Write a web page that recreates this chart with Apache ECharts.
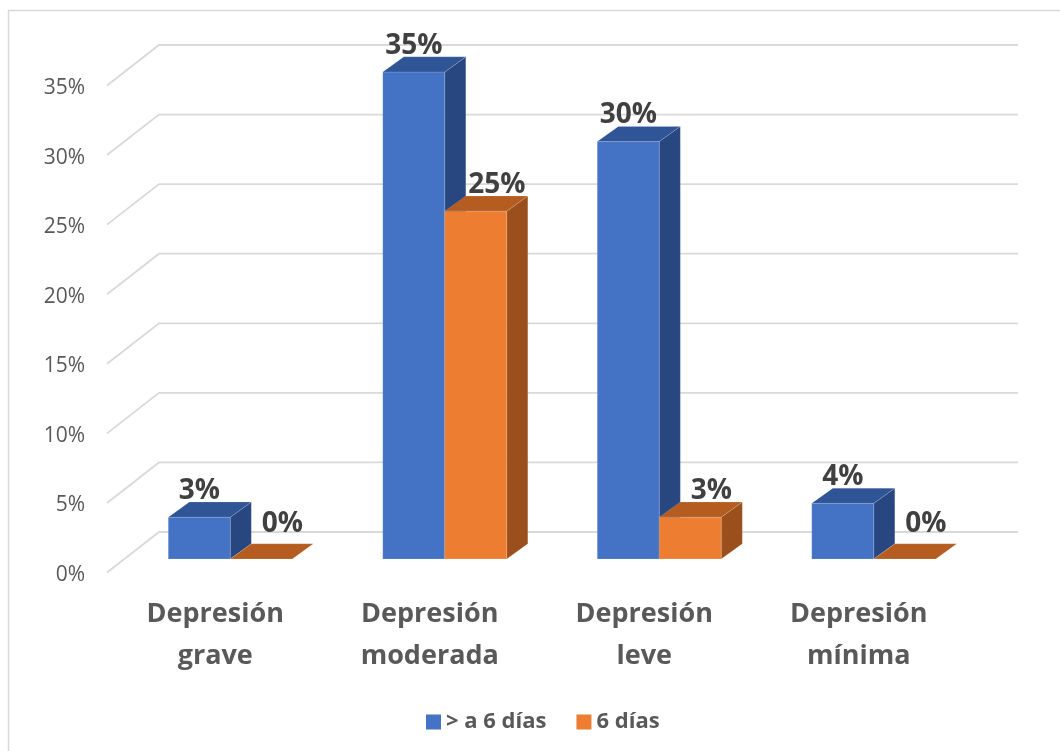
<!DOCTYPE html>
<html>
<head>
<meta charset="utf-8">
<script src="https://cdn.jsdelivr.net/npm/echarts@6/dist/echarts.min.js"></script>
<style>
  html, body { margin: 0; padding: 0; background: #fff; }
  #chart { width: 1060px; height: 751px; }
</style>
</head>
<body>
<div id="chart"></div>
<script>
// Categories, series and tick values
const categories = ['Depresión\ngrave', 'Depresión\nmoderada', 'Depresión\nleve', 'Depresión\nmínima'];
const seriesNames = ['> a 6 días', '6 días'];
const valuesOver6 = [3, 35, 30, 4];
const values6 = [0, 25, 3, 0];
const yTicks = [0, 5, 10, 15, 20, 25, 30, 35];

// Face colours for the pseudo-3D columns: front, top, side
const palette = [
  { front: '#4472C4', top: '#2F5597', side: '#284780' },
  { front: '#ED7D31', top: '#B55D20', side: '#9B4F1C' }
];

const FONT = '"Open Sans", "Noto Sans", sans-serif';

// Draws one 3D column (front, top and right faces) plus its value label.
function makeBarRenderer(seriesIdx) {
  const col = palette[seriesIdx];
  return function (params, api) {
    const ci = api.value(0);
    const v = api.value(1);
    const base = api.coord([ci, 0]);
    const top = api.coord([ci, v]);
    const band = api.size([1, 0])[0];
    const w = band * 0.289;
    const dx = w * 0.34;
    const dy = w * 0.245;
    const x0 = seriesIdx === 0 ? base[0] - w : base[0];
    const x1 = x0 + w;
    const yb = base[1];
    const yt = top[1];
    const edge = { stroke: 'rgba(255,255,255,0.18)', lineWidth: 0.8 };
    // flat (zero) columns carry their label a little higher
    const labelGap = v === 0 ? -6 : 3;
    const children = [
      {
        type: 'polygon',
        shape: { points: [[x1, yt], [x1 + dx, yt - dy], [x1 + dx, yb - dy], [x1, yb]] },
        style: Object.assign({ fill: col.side }, edge)
      },
      {
        type: 'rect',
        shape: { x: x0, y: yt, width: w, height: yb - yt },
        style: Object.assign({ fill: col.front }, edge)
      },
      {
        type: 'polygon',
        shape: { points: [[x0, yt], [x1, yt], [x1 + dx, yt - dy], [x0 + dx, yt - dy]] },
        style: Object.assign({ fill: col.top }, edge)
      },
      {
        type: 'text',
        style: {
          text: v + '%',
          x: (x0 + x1) / 2 + (seriesIdx === 1 ? dx : 0),
          y: yt - dy + labelGap,
          align: 'center',
          verticalAlign: 'bottom',
          font: 'bold 28px ' + FONT,
          fill: '#404040'
        }
      }
    ];
    return { type: 'group', children: children };
  };
}

// Perspective grid: short diagonal on the side wall, then a horizontal line on the back wall.
function renderGridLine(params, api) {
  const v = api.value(0);
  const cs = params.coordSys;
  const y = api.coord([0, v])[1];
  const frontX = cs.x - 16;
  const backX = cs.x + 36;
  const rightX = cs.x + cs.width + 37;
  return {
    type: 'polyline',
    shape: { points: [[frontX, y + 13.5], [backX, y - 27], [rightX, y - 27]] },
    style: { stroke: '#D9D9D9', lineWidth: 1.8, fill: null }
  };
}

const chart = echarts.init(document.getElementById('chart'));

chart.setOption({
  backgroundColor: '#ffffff',
  animation: false,
  graphic: [{
    type: 'rect',
    shape: { x: 8.5, y: 10.5, width: 1100, height: 800 },
    style: { fill: 'none', stroke: '#D9D9D9', lineWidth: 1.5 },
    silent: true
  }],
  grid: [
    { left: 123, right: 79, top: 72, bottom: 192 },
    { left: 107, right: 79, top: 88, bottom: 176 }
  ],
  xAxis: [
    {
      type: 'category',
      gridIndex: 0,
      data: categories,
      axisLine: { show: false },
      axisTick: { show: false },
      axisLabel: {
        margin: 34,
        fontFamily: FONT,
        fontWeight: 'bold',
        fontSize: 27,
        lineHeight: 42,
        color: '#595959',
        padding: [0, 30, 0, 0]
      }
    },
    { type: 'category', gridIndex: 1, data: categories, show: false }
  ],
  yAxis: [
    { type: 'value', gridIndex: 0, min: 0, max: 35, interval: 5, show: false },
    {
      type: 'value',
      gridIndex: 1,
      min: 0,
      max: 35,
      interval: 5,
      axisLine: { show: false },
      axisTick: { show: false },
      splitLine: { show: false },
      axisLabel: {
        margin: 22,
        fontFamily: FONT,
        fontSize: 21,
        color: '#595959',
        formatter: '{value}%'
      }
    }
  ],
  legend: {
    data: seriesNames,
    left: 421,
    top: 706,
    icon: 'rect',
    itemWidth: 15,
    itemHeight: 15,
    itemGap: 30,
    textStyle: { fontFamily: FONT, fontWeight: 'bold', fontSize: 22, color: '#595959' }
  },
  series: [
    {
      type: 'custom',
      name: 'grid',
      xAxisIndex: 0,
      yAxisIndex: 0,
      silent: true,
      z: 1,
      data: yTicks.map(t => [t]),
      encode: { y: 0 },
      renderItem: renderGridLine
    },
    {
      type: 'custom',
      name: seriesNames[0],
      xAxisIndex: 0,
      yAxisIndex: 0,
      z: 2,
      itemStyle: { color: palette[0].front },
      data: valuesOver6.map((v, i) => [i, v]),
      encode: { x: 0, y: 1 },
      renderItem: makeBarRenderer(0)
    },
    {
      type: 'custom',
      name: seriesNames[1],
      xAxisIndex: 0,
      yAxisIndex: 0,
      z: 3,
      itemStyle: { color: palette[1].front },
      data: values6.map((v, i) => [i, v]),
      encode: { x: 0, y: 1 },
      renderItem: makeBarRenderer(1)
    }
  ]
});
</script>
</body>
</html>
